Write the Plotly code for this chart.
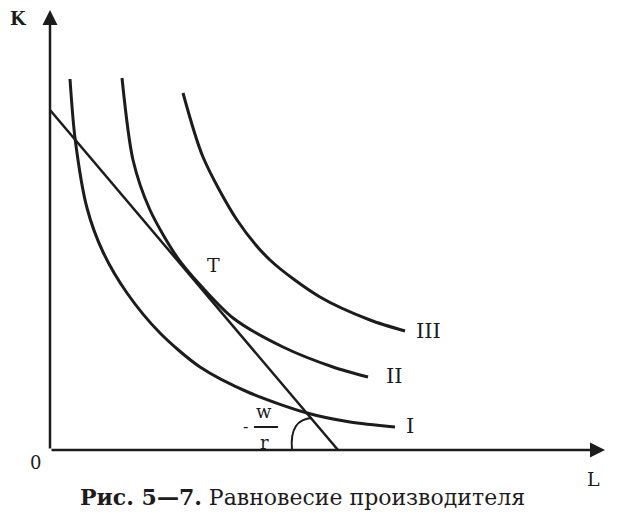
import plotly.graph_objects as go

# Isoquant I
iso1_L = [0.5, 0.625, 0.925, 1.325, 1.925, 2.75, 3.75, 5.0, 6.425, 7.5, 8.625]
iso1_K = [9.275, 7.8, 6.05, 4.95, 3.925, 2.925, 2.075, 1.425, 0.925, 0.7, 0.575]
# Isoquant II
iso2_L = [1.8, 2.075, 2.5, 3.175, 3.75, 4.575, 5.825, 7.075, 7.95]
iso2_K = [9.3, 7.25, 6.0, 4.825, 4.13, 3.3, 2.575, 2.075, 1.825]
# Isoquant III
iso3_L = [3.325, 3.825, 4.675, 5.5, 6.75, 8.0, 8.875]
iso3_K = [8.925, 7.325, 5.75, 4.75, 3.825, 3.25, 2.975]
# Isocost (budget) line
iso_cost_L = [0.0, 7.2]
iso_cost_K = [8.5, 0.0]

curve_labels = ["I", "II", "III"]

INK = "#1c1c1c"
FONT = "DejaVu Serif"

fig = go.Figure()
for xs, ys in [(iso1_L, iso1_K), (iso2_L, iso2_K), (iso3_L, iso3_K)]:
    fig.add_trace(go.Scatter(x=xs, y=ys, mode="lines",
                             line=dict(color=INK, width=3, shape="spline", smoothing=0.8),
                             hoverinfo="skip", showlegend=False))
fig.add_trace(go.Scatter(x=iso_cost_L, y=iso_cost_K, mode="lines",
                         line=dict(color=INK, width=2.5),
                         hoverinfo="skip", showlegend=False))

ann = []
# axes with arrows
ann.append(dict(x=0, y=11.0, ax=0, ay=0, xref="x", yref="y", axref="x", ayref="y",
                showarrow=True, arrowhead=2, arrowsize=1.2, arrowwidth=2.5, arrowcolor=INK, text=""))
ann.append(dict(x=13.875, y=0, ax=0, ay=0, xref="x", yref="y", axref="x", ayref="y",
                showarrow=True, arrowhead=2, arrowsize=1.2, arrowwidth=2.5, arrowcolor=INK, text=""))

def txt(x, y, s, size=18, bold=False):
    ann.append(dict(x=x, y=y, xref="x", yref="y", showarrow=False,
                    text=f"<b>{s}</b>" if bold else s,
                    font=dict(family=FONT, size=size, color=INK)))

txt(-0.8, 10.8, "K", 18, True)
txt(-0.375, -0.3, "0", 18)
txt(13.575, -0.725, "L", 19)
txt(4.075, 4.625, "T", 19)
txt(9.0, 0.6, curve_labels[0], 21)
txt(8.6, 1.85, curve_labels[1], 21)
txt(9.45, 2.975, curve_labels[2], 21)
txt(5.35, 0.97, "w", 18)
txt(5.35, 0.2, "r", 18)
txt(4.88, 0.6, "-", 16)

ann.append(dict(x=6.3, y=-1.175, xref="x", yref="y", showarrow=False,
                text="<b>Рис. 5—7.</b> Равновесие производителя",
                font=dict(family=FONT, size=22, color=INK)))

shapes = [
    dict(type="line", xref="x", yref="y", x0=5.1, x1=5.7, y0=0.575, y1=0.575,
         line=dict(color=INK, width=2)),
    dict(type="path", xref="x", yref="y",
         path="M 6.05,0 C 6.0,0.55 6.2,0.78 6.55,0.8",
         line=dict(color=INK, width=2)),
]

# page body has an 8px default margin; ranges chosen so the origin lands at (50, 450)
fig.update_layout(
    width=623, height=524,
    margin=dict(l=0, r=0, t=0, b=0),
    paper_bgcolor="white", plot_bgcolor="white",
    xaxis=dict(range=[-1.05, 14.525], visible=False, fixedrange=True),
    yaxis=dict(range=[-2.05, 11.05], visible=False, fixedrange=True),
    annotations=ann, shapes=shapes,
)

fig.write_html("out.html")
